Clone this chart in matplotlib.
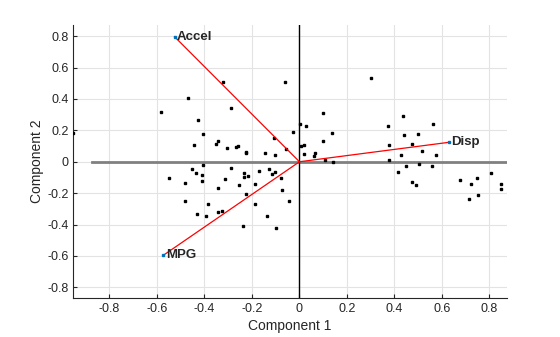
import matplotlib
matplotlib.use("Agg")
import matplotlib.pyplot as plt
import numpy as np

plt.rcParams['font.family'] = ['Liberation Sans', 'DejaVu Sans']

# Variable loadings (coefficient vectors)
var_names = ["MPG", "Disp", "Accel"]
coef_x = [-0.573, 0.630, -0.526]
coef_y = [-0.596, 0.124, 0.797]

# Observation scores
score_x = [-0.952, -0.581, -0.471, -0.324, -0.062, -0.290, -0.429, -0.408, -0.446,
           -0.353, -0.345, -0.307, -0.267, -0.260, -0.226, -0.226, -0.146, -0.108,
           -0.104, -0.058, -0.028, 0.001, 0.027, 0.008, 0.018, 0.018,
           -0.454, -0.408, -0.290, -0.129,
           -0.551, -0.484, -0.484, -0.437, -0.412, -0.412, -0.433, -0.395, -0.383,
           -0.345, -0.345, -0.328, -0.315, -0.256, -0.239, -0.235, -0.235, -0.218,
           -0.227, -0.189, -0.189, -0.172, -0.138, -0.117, -0.104, -0.100, -0.079,
           -0.075, -0.045,
           0.098, 0.136, 0.098, 0.060, 0.065, 0.107, 0.141, 0.301, 0.373, 0.377,
           0.377, 0.436, 0.440, 0.427, 0.449, 0.474, 0.499, 0.503, 0.516, 0.562,
           0.558, 0.575, 0.415, 0.474, 0.491, 0.676, 0.723, 0.715, 0.748, 0.752,
           0.807, 0.849, 0.849]
score_y = [0.183, 0.317, 0.406, 0.508, 0.508, 0.342, 0.268, 0.176, 0.107,
           0.113, 0.131, 0.089, 0.094, 0.098, 0.061, 0.055, 0.055, 0.151,
           0.042, 0.081, 0.190, 0.240, 0.225, 0.098, 0.107, 0.049,
           -0.045, -0.021, -0.039, -0.045,
           -0.104, -0.136, -0.251, -0.072, -0.085, -0.124, -0.334, -0.346, -0.270,
           -0.168, -0.321, -0.314, -0.111, -0.148, -0.410, -0.072, -0.098, -0.091,
           -0.206, -0.142, -0.270, -0.059, -0.346, -0.078, -0.066, -0.423, -0.104,
           -0.181, -0.251,
           0.310, 0.183, 0.131, 0.037, 0.055, 0.011, -0.002, 0.533, 0.227, 0.107,
           0.011, 0.291, 0.170, 0.042, -0.028, 0.113, 0.177, -0.015, 0.068, 0.240,
           -0.028, 0.042, -0.066, -0.129, -0.148, -0.117, -0.142, -0.238, -0.104,
           -0.212, -0.072, -0.142, -0.174]

xticks = [-0.8, -0.6, -0.4, -0.2, 0, 0.2, 0.4, 0.6, 0.8]
yticks = [-0.8, -0.6, -0.4, -0.2, 0, 0.2, 0.4, 0.6, 0.8]

fig = plt.figure(figsize=(5.6, 3.37), dpi=100)
ax = fig.add_axes([0.131, 0.115, 0.774, 0.811])

ax.set_xlim(-0.952, 0.873)
ax.set_ylim(-0.870, 0.872)

ax.grid(True, color='#e3e3e3', linewidth=0.8)
ax.set_axisbelow(True)

# axis lines through origin
ax.plot([-0.873, 0.873], [0, 0], color='#808080', linewidth=2, zorder=2)
ax.axvline(0, color='black', linewidth=1, zorder=2)

# scores
ax.plot(score_x, score_y, 's', color='black', markersize=2, zorder=3)

# loading vectors
for name, cx, cy in zip(var_names, coef_x, coef_y):
    ax.plot([0, cx], [0, cy], color='red', linewidth=0.9, zorder=4)
    ax.plot(cx, cy, 's', color='#0072BD', markersize=1.6, zorder=5)
    ax.text(cx + 0.01, cy, name, fontsize=9.5, fontweight='bold',
            color='#262626', va='center', ha='left', zorder=6)

ax.set_xticks(xticks)
ax.set_yticks(yticks)
ax.set_xticklabels(['0' if t == 0 else f"{t:g}" for t in xticks])
ax.set_yticklabels(['0' if t == 0 else f"{t:g}" for t in yticks])
ax.tick_params(direction='in', length=3, labelsize=9, colors='#262626',
               top=False, right=False)

for side in ['top', 'right']:
    ax.spines[side].set_visible(False)
for side in ['left', 'bottom']:
    ax.spines[side].set_color('#262626')

ax.set_xlabel("Component 1", fontsize=10, color='#262626', labelpad=3)
ax.set_ylabel("Component 2", fontsize=10, color='#262626', labelpad=2)

fig.savefig("out.png", dpi=100, facecolor='white')
